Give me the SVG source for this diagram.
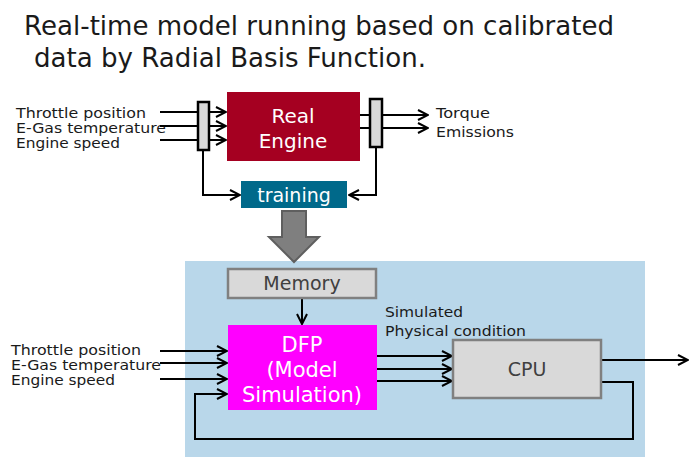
<svg xmlns="http://www.w3.org/2000/svg" width="700" height="457" viewBox="0 0 700 457">
<style>
.t{font-family:"DejaVu Sans","Liberation Sans",sans-serif;fill:#1a1a1a}
.lbl{font-size:14px}
.w{font-family:"DejaVu Sans","Liberation Sans",sans-serif;fill:#ffffff;text-anchor:middle}
.g{font-family:"DejaVu Sans","Liberation Sans",sans-serif;fill:#404040;text-anchor:middle}
.ln{stroke:#000;stroke-width:2;fill:none}
.box{fill:#d9d9d9;stroke:#808080;stroke-width:2.5}
.spl{fill:#d9d9d9;stroke:#000;stroke-width:2.5}
</style>
<defs>
<marker id="ah" markerWidth="12" markerHeight="12" viewBox="0 0 12 12" refX="11" refY="6" orient="auto" markerUnits="userSpaceOnUse">
<path d="M1,1 L11,6 L1,11" fill="none" stroke="#000" stroke-width="2"/>
</marker>
</defs>
<rect width="700" height="457" fill="#fff"/>
<g id="title">
<text class="t" x="24" y="35" font-size="27" textLength="590" lengthAdjust="spacingAndGlyphs">Real-time model running based on calibrated</text>
<text class="t" x="34" y="67" font-size="27" textLength="392" lengthAdjust="spacingAndGlyphs">data by Radial Basis Function.</text>
</g>
<g id="panel"><rect x="185" y="261" width="460" height="196" fill="#b9d7ea"/></g>
<g id="inputs-top" class="t lbl">
<text x="16" y="118" textLength="130" lengthAdjust="spacingAndGlyphs">Throttle position</text>
<text x="16" y="132.5" textLength="150" lengthAdjust="spacingAndGlyphs">E-Gas temperature</text>
<text x="16" y="147.5" textLength="104" lengthAdjust="spacingAndGlyphs">Engine speed</text>
</g>
<g id="outputs-top" class="t lbl">
<text x="436" y="118" textLength="54" lengthAdjust="spacingAndGlyphs">Torque</text>
<text x="436" y="137" textLength="78" lengthAdjust="spacingAndGlyphs">Emissions</text>
</g>
<g id="inputs-bottom" class="t lbl">
<text x="11" y="355" textLength="130" lengthAdjust="spacingAndGlyphs">Throttle position</text>
<text x="11" y="370" textLength="150" lengthAdjust="spacingAndGlyphs">E-Gas temperature</text>
<text x="11" y="385" textLength="104" lengthAdjust="spacingAndGlyphs">Engine speed</text>
</g>
<g id="sim-label" class="t lbl">
<text x="385" y="317" textLength="78" lengthAdjust="spacingAndGlyphs">Simulated</text>
<text x="385" y="336" textLength="141" lengthAdjust="spacingAndGlyphs">Physical condition</text>
</g>
<g id="connectors">
<path class="ln" d="M160,112 H226" marker-end="url(#ah)"/>
<path class="ln" d="M160,126 H226" marker-end="url(#ah)"/>
<path class="ln" d="M160,140 H226" marker-end="url(#ah)"/>
<path class="ln" d="M203,150 V195 H240" marker-end="url(#ah)"/>
<path class="ln" d="M360,115 H428" marker-end="url(#ah)"/>
<path class="ln" d="M360,128 H428" marker-end="url(#ah)"/>
<path class="ln" d="M376,147 V195 H349" marker-end="url(#ah)"/>
<path class="ln" d="M302,298 V324" marker-end="url(#ah)"/>
<path class="ln" d="M160,351 H227" marker-end="url(#ah)"/>
<path class="ln" d="M160,363 H227" marker-end="url(#ah)"/>
<path class="ln" d="M160,379 H227" marker-end="url(#ah)"/>
<path class="ln" d="M377,356 H452" marker-end="url(#ah)"/>
<path class="ln" d="M377,369 H452" marker-end="url(#ah)"/>
<path class="ln" d="M377,381 H452" marker-end="url(#ah)"/>
<path class="ln" d="M602,360 H688" marker-end="url(#ah)"/>
<path class="ln" d="M602,382 H633 V439 H195 V394 H227" marker-end="url(#ah)"/>
</g>
<g id="splitter-in"><rect class="spl" x="198" y="102" width="11" height="48"/></g>
<g id="real-engine">
<rect x="227" y="92" width="133" height="69" fill="#a50021"/>
<text class="w" x="293" y="123" font-size="20">Real</text>
<text class="w" x="293" y="148" font-size="20">Engine</text>
</g>
<g id="splitter-out"><rect class="spl" x="370" y="99" width="12" height="48"/></g>
<g id="training">
<rect x="241" y="181" width="106" height="27" fill="#00698a"/>
<text class="w" x="294" y="202" font-size="19">training</text>
</g>
<g id="big-arrow">
<path d="M282,211 H306 V237 H319 L294,262 L269,237 H282 Z" fill="#7f7f7f" stroke="#5f5f5f" stroke-width="2"/>
</g>
<g id="memory">
<rect class="box" x="228" y="269" width="148" height="29"/>
<text class="g" x="302" y="290" font-size="19">Memory</text>
</g>
<g id="dfp">
<rect x="228" y="325" width="149" height="85" fill="#ff00ff"/>
<text class="w" x="302" y="352" font-size="21">DFP</text>
<text class="w" x="302" y="377" font-size="21">(Model</text>
<text class="w" x="302" y="402" font-size="21">Simulation)</text>
</g>
<g id="cpu">
<rect class="box" x="453" y="340" width="148" height="58"/>
<text class="g" x="527" y="376" font-size="19">CPU</text>
</g>
</svg>
